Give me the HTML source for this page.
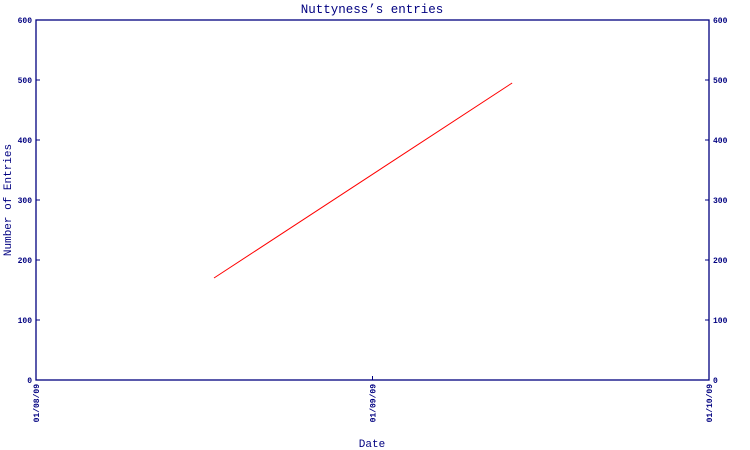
<!DOCTYPE html>
<html><head><meta charset="utf-8"><style>
html,body{margin:0;padding:0;background:#fff;}
svg{display:block;}
text{font-family:"Liberation Mono",monospace;fill:#000080;}
</style></head><body>
<svg id="chart" width="750" height="450">
<text x="372" y="13" text-anchor="middle" font-size="12.5">Nuttyness’s entries</text>
<text x="372" y="447" text-anchor="middle" font-size="11">Date</text>
<text transform="translate(11,200) rotate(-90)" text-anchor="middle" font-size="11">Number of Entries</text>
<g id="axes"></g>
<g id="series"></g>
</svg>
<script>
// x values: months since 01/08/09 (fractional)
const xMonths = [0.529, 1.415];
const yEntries = [170, 495];
const yTicks = [0, 100, 200, 300, 400, 500, 600];
const xTickLabels = ["01/08/09", "01/09/09", "01/10/09"];

const L = 36, R = 709, T = 20, B = 380;
const NS = "http://www.w3.org/2000/svg";
function xs(m){ return L + (R - L) * m / (xTickLabels.length - 1); }
function ys(v){ return B - (B - T) * v / 600; }
const axes = document.getElementById('axes');
const ser = document.getElementById('series');
function mk(tag, attrs, parent){
  const e = document.createElementNS(NS, tag);
  for (const k in attrs) e.setAttribute(k, attrs[k]);
  parent.appendChild(e); return e;
}
const frame = mk('rect', {x:L, y:T, width:R-L, height:B-T, fill:'none', stroke:'#000080', 'stroke-width':1.3}, axes);


yTicks.forEach(v => {
  const y = ys(v);
  const t1 = mk('line', {x1:L, x2:L+4, y1:y, y2:y, stroke:'#000080'}, axes);
  
  
  const t2 = mk('line', {x1:R-4, x2:R, y1:y, y2:y, stroke:'#000080'}, axes);
  
  
  const a = mk('text', {x:L-4, y:y+3, 'text-anchor':'end', 'font-size':8, 'font-weight':'bold'}, axes);
  a.textContent = v;
  
  
  const b = mk('text', {x:R+4, y:y+3, 'text-anchor':'start', 'font-size':8, 'font-weight':'bold'}, axes);
  b.textContent = v;
  
  
});
xTickLabels.forEach((lab, i) => {
  const x = xs(i);
  const t = mk('line', {x1:x, x2:x, y1:B-4, y2:B, stroke:'#000080'}, axes);
  
  
  const tx = mk('text', {transform:'translate(' + (x+3) + ',' + (B+4) + ') rotate(-90)', 'text-anchor':'end', 'font-size':8, 'font-weight':'bold'}, axes);
  tx.textContent = lab;
  
  
});
const pts = xMonths.map((m, i) => xs(m) + ',' + ys(yEntries[i])).join(' ');
const line = mk('polyline', {points:pts, fill:'none', stroke:'#ff0000', 'stroke-width':1}, ser);


</script>
</body></html>
